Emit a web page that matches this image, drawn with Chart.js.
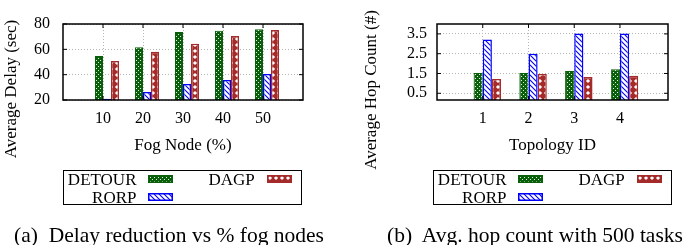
<!DOCTYPE html>
<html>
<head>
<meta charset="utf-8">
<script src="https://cdn.jsdelivr.net/npm/chart.js@4.4.0/dist/chart.umd.min.js"></script>
<style>
  body { margin: 0; background: #fff; width: 689px; height: 245px; position: relative; overflow: hidden;
         font-family: "Liberation Serif", "DejaVu Serif", serif; color: #000; }
  .panel { position: absolute; top: 0; }
  .legend { position: absolute; top: 170px; width: 239px; height: 35px; border: 1.5px solid #000; box-sizing: border-box; }
  .legend span { position: absolute; font-size: 17px; line-height: 17px; white-space: nowrap; }
  .legend canvas { position: absolute; }
  .caption { position: absolute; top: 222px; width: 400px; font-size: 21.5px; line-height: 26px; text-align: center; white-space: nowrap; }
</style>
</head>
<body>
<canvas id="delayChart" class="panel" width="345" height="245" style="left:0"></canvas>
<canvas id="hopChart" class="panel" width="344" height="245" style="left:345px"></canvas>
<div id="legendA" class="legend" style="left:63px"></div>
<div id="legendB" class="legend" style="left:433px"></div>
<div class="caption" style="left:-31px">(a)&nbsp; Delay reduction vs % fog nodes</div>
<div class="caption" style="left:335px">(b)&nbsp; Avg. hop count with 500 tasks</div>

<script>
// data
const seriesNames = ['DETOUR', 'RORP', 'DAGP'];

const fogNodes = [10, 20, 30, 40, 50];
const delayDetour = [54.7, 61.6, 73.7, 74.7, 75.8];
const delayRorp = [21.0, 26.3, 32.6, 35.8, 40.5];
const delayDagp = [50.8, 58.1, 64.5, 70.5, 75.2];
const delayTicks = [20, 40, 60, 80];

const topologies = [1, 2, 3, 4];
const hopDetour = [1.53, 1.53, 1.63, 1.72];
const hopRorp = [3.22, 2.50, 3.52, 3.52];
const hopDagp = [1.22, 1.47, 1.32, 1.38];
const hopTicks = [0.5, 1.5, 2.5, 3.5];

// where each bar sits inside a group, as a fraction of the category step
const barOffsets = [-0.1, 0.1, 0.3];

const serif = '"Liberation Serif", "DejaVu Serif", serif';

// fill patterns (gnuplot-like)
function makePattern(kind) {
  const tile = document.createElement('canvas');
  const c = tile.getContext('2d');
  if (kind === 'dots') {
    tile.width = 4; tile.height = 4;
    c.fillStyle = '#0a600a';
    c.fillRect(0, 0, 4, 4);
    c.fillStyle = '#e0f0e0';
    c.fillRect(0, 0, 1, 1);
    c.fillRect(2, 2, 1, 1);
  } else if (kind === 'hatch') {
    tile.width = 5; tile.height = 5;
    c.fillStyle = '#fff';
    c.fillRect(0, 0, 5, 5);
    c.strokeStyle = '#0000ff';
    c.lineWidth = 1.1;
    c.beginPath();
    c.moveTo(-1, -1); c.lineTo(6, 6);
    c.moveTo(-1, 4); c.lineTo(1, 6);
    c.moveTo(4, -1); c.lineTo(6, 1);
    c.stroke();
  } else {
    tile.width = 6; tile.height = 6;
    c.fillStyle = '#a52a2a';
    c.fillRect(0, 0, 6, 6);
    c.fillStyle = '#fff';
    c.beginPath();
    c.moveTo(3, 0.9); c.lineTo(5.1, 3); c.lineTo(3, 5.1); c.lineTo(0.9, 3);
    c.closePath();
    c.fill();
  }
  return c.createPattern(tile, 'repeat');
}

const fills = [makePattern('dots'), makePattern('hatch'), makePattern('cross')];
const borders = ['#0a600a', '#0000ff', '#a52a2a'];

// frame, inner tick marks and a freely placed y title
const framePlugin = {
  id: 'frame',
  afterDraw(chart, args, opts) {
    const { ctx, chartArea: a, scales } = chart;
    ctx.save();
    ctx.strokeStyle = '#000';
    ctx.lineWidth = 1;
    ctx.beginPath();
    scales.x.ticks.forEach(t => {
      const px = scales.x.getPixelForValue(t.value);
      ctx.moveTo(px, a.bottom); ctx.lineTo(px, a.bottom - 4);
      ctx.moveTo(px, a.top); ctx.lineTo(px, a.top + 4);
    });
    scales.y.ticks.forEach(t => {
      const py = scales.y.getPixelForValue(t.value);
      ctx.moveTo(a.left, py); ctx.lineTo(a.left + 4, py);
      ctx.moveTo(a.right, py); ctx.lineTo(a.right - 4, py);
    });
    ctx.stroke();
    ctx.lineWidth = 1.5;
    ctx.strokeRect(a.left, a.top, a.right - a.left, a.bottom - a.top);

    ctx.translate(opts.x, opts.y);
    ctx.rotate(-Math.PI / 2);
    ctx.font = '17px ' + serif;
    ctx.fillStyle = '#000';
    ctx.textAlign = 'center';
    ctx.textBaseline = 'middle';
    ctx.fillText(opts.text, 0, 0);
    ctx.restore();
  }
};

function buildChart(id, cfg) {
  const step = cfg.categories[1] - cfg.categories[0];
  const datasets = cfg.series.map((vals, i) => ({
    label: seriesNames[i],
    data: cfg.categories.map((c, j) => ({ x: c + barOffsets[i] * step, y: vals[j] })),
    backgroundColor: fills[i],
    borderColor: borders[i],
    borderWidth: i === 0 ? 1 : 1.5,
    borderSkipped: false,
    inflateAmount: 0
  }));

  return new Chart(document.getElementById(id), {
    type: 'bar',
    data: { datasets },
    plugins: [framePlugin],
    options: {
      responsive: false,
      animation: false,
      devicePixelRatio: 1,
      layout: { padding: { top: 24, right: cfg.rightPad, left: 0, bottom: 85 } },
      datasets: { bar: { grouped: false, barPercentage: 1, categoryPercentage: 1 } },
      plugins: {
        legend: { display: false },
        tooltip: { enabled: false },
        frame: { text: cfg.yTitle, x: cfg.yTitleX, y: cfg.yTitleY }
      },
      scales: {
        x: {
          type: 'linear',
          offset: false,
          min: 0,
          max: cfg.xMax,
          afterBuildTicks: s => { s.ticks = cfg.categories.map(v => ({ value: v })); },
          afterFit: s => { s.height = 60; },
          ticks: { padding: 9, color: '#000', maxRotation: 0, font: { family: serif, size: 16 } },
          grid: { color: '#b4b4b4', drawTicks: false, offset: false },
          border: { display: false, dash: [1, 2] },
          title: {
            display: true, text: cfg.xTitle, color: '#000',
            font: { family: serif, size: 17 }, padding: { top: 0, bottom: 4 }
          }
        },
        y: {
          min: cfg.yMin,
          max: cfg.yMax,
          afterBuildTicks: s => { s.ticks = cfg.yTicks.map(v => ({ value: v })); },
          afterFit: s => { s.width = cfg.yWidth; },
          ticks: { padding: cfg.yPad, color: '#000', font: { family: serif, size: 16 },
                   callback: v => cfg.yTicks[0] % 1 ? v.toFixed(1) : v },
          grid: { color: '#b4b4b4', drawTicks: false },
          border: { display: false, dash: [1, 2] }
        }
      }
    }
  });
}

buildChart('delayChart', {
  categories: fogNodes,
  series: [delayDetour, delayRorp, delayDagp],
  yTicks: delayTicks, yMin: 20, yMax: 80, xMax: 60,
  xTitle: 'Fog Node (%)', yTitle: 'Average Delay (sec)',
  yWidth: 63, yPad: 13, rightPad: 42, yTitleX: 12, yTitleY: 89
});

buildChart('hopChart', {
  categories: topologies,
  series: [hopDetour, hopRorp, hopDagp],
  yTicks: hopTicks, yMin: 0.16, yMax: 4, xMax: 5.05,
  xTitle: 'Topology ID', yTitle: 'Average Hop Count (#)',
  yWidth: 92, yPad: 10, rightPad: 21, yTitleX: 27, yTitleY: 90
});

// legends: two rows, filled column by column
function buildLegend(id) {
  const box = document.getElementById(id);
  const spots = [
    { textRight: 72.5, sw: 83.5, top: 0 },
    { textRight: 72.5, sw: 83.5, top: 17.5 },
    { textLeft: 144.5, sw: 202.5, top: 0 }
  ];
  seriesNames.forEach((name, i) => {
    const p = spots[i];
    const span = document.createElement('span');
    span.textContent = name;
    span.style.top = p.top + 'px';
    if (p.textRight !== undefined) {
      span.style.left = '0px';
      span.style.width = p.textRight + 'px';
      span.style.textAlign = 'right';
    } else {
      span.style.left = p.textLeft + 'px';
    }
    box.appendChild(span);

    const sw = document.createElement('canvas');
    sw.width = 25; sw.height = 8;
    sw.style.left = p.sw + 'px';
    sw.style.top = (p.top + 4) + 'px';
    const c = sw.getContext('2d');
    c.fillStyle = fills[i];
    c.fillRect(0, 0, 25, 8);
    c.strokeStyle = borders[i];
    c.lineWidth = 1.5;
    c.strokeRect(0.75, 0.75, 23.5, 6.5);
    box.appendChild(sw);
  });
}
buildLegend('legendA');
buildLegend('legendB');
</script>
</body>
</html>
